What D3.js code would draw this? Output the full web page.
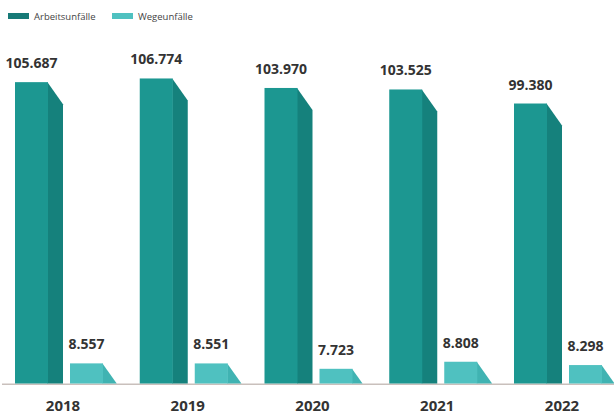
<!DOCTYPE html>
<html><head><meta charset="utf-8">
<script src="https://cdn.jsdelivr.net/npm/d3@7/dist/d3.min.js"></script>
<style>
html,body{margin:0;padding:0;background:#fff;}
svg{display:block;}
text{font-family:"Open Sans","Noto Sans",sans-serif;}
</style></head>
<body>
<svg id="c" width="614" height="414"></svg>
<script>
const years = ["2018","2019","2020","2021","2022"];
const arbeitsunfaelle = [105687, 106774, 103970, 103525, 99380];
const wegeunfaelle = [8557, 8551, 7723, 8808, 8298];
const seriesNames = ["Arbeitsunfälle","Wegeunfälle"];

const W = 614, H = 414, base = 383.5;
const svg = d3.select("#c");
const fmt = v => d3.format(",")(v).replace(/,/g, ".");

const x = d3.scalePoint().domain(years).range([63, 562]);
// broken value axis as in the original graphic
const hgt = d3.scaleLinear().domain([0, 7000, 9000, 99000, 107000]).range([0, 10, 23, 278.7, 305.8]);
const y = v => base - hgt(v);

const front = ["#1c9791", "#4fc1c0"];
const side = ["#15817c", "#40b3b2"];
const legendCol = ["#177a77", "#4fc1c0"];
const fw = 33, dx = 15, dy = 22;

// baseline
svg.append("line").attr("x1", 2).attr("x2", W).attr("y1", base + 0.8).attr("y2", base + 0.8)
  .attr("stroke", "#c9c0bc").attr("stroke-width", 1.5);

function bar(g, x0, v, i) {
  const t = y(v);
  const h = base - t;
  const sh = Math.min(dy, h);
  const sx = dx * sh / dy;
  g.append("path").attr("fill", side[i])
    .attr("d", `M${x0 + fw - 0.5},${t} L${x0 + fw + sx},${t + sh} L${x0 + fw + sx},${base} L${x0 + fw - 0.5},${base}Z`);
  g.append("rect").attr("x", x0).attr("y", t).attr("width", fw).attr("height", h).attr("fill", front[i]);
  g.append("text").attr("x", x0 + fw / 2).attr("y", t - 14).attr("text-anchor", "middle")
    .attr("font-size", 14).attr("font-weight", 700).attr("fill", "#333").text(fmt(v));
}

years.forEach((yr, k) => {
  const c = x(yr);
  const g = svg.append("g");
  bar(g, c - 48, arbeitsunfaelle[k], 0);
  bar(g, c + 7, wegeunfaelle[k], 1);
});

// year axis labels
svg.append("g").selectAll("text").data(years).join("text")
  .attr("x", d => x(d)).attr("y", 411).attr("text-anchor", "middle")
  .attr("font-size", 15).attr("font-weight", 700).attr("fill", "#333").text(d => d);

// legend
const lx = [8, 112];
seriesNames.forEach((n, i) => {
  svg.append("rect").attr("x", lx[i]).attr("y", 13).attr("width", 21).attr("height", 6).attr("fill", legendCol[i]);
  svg.append("text").attr("x", lx[i] + 26).attr("y", 19.5).attr("font-size", 9.5).attr("fill", "#444").text(n);
});
</script>
</body></html>
